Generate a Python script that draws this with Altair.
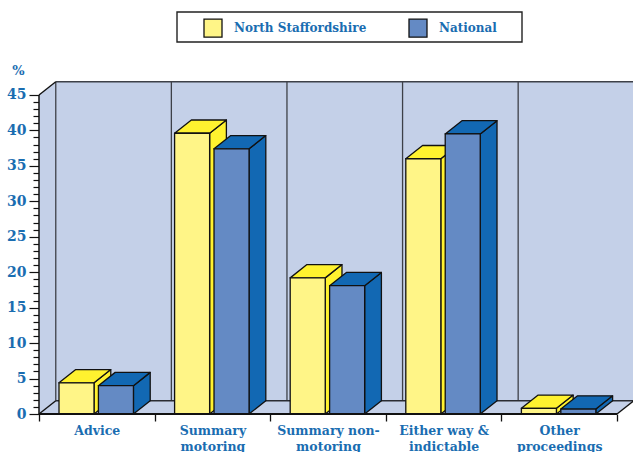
import json
import altair as alt
import pandas as pd

categories = ["Advice", "Summary motoring", "Summary non-motoring", "Either way & indictable", "Other proceedings"]
tick_lines = [["Advice"], ["Summary", "motoring"], ["Summary non-", "motoring"], ["Either way &", "indictable"], ["Other", "proceedings"]]
north_staffordshire = [4.4, 39.6, 19.2, 36.0, 0.8]
national = [4.0, 37.4, 18.1, 39.5, 0.7]
series_names = ["North Staffordshire", "National"]

INK = "#111111"
TEXT = "#1a6db1"
WALL = "#c4d0e8"
FONT = "DejaVu Serif"

# Oblique depth of the box, in category widths and in percent
DEPTH_X = 0.145
DEPTH_Y = 1.87
BAR_W = 0.303
OFFSETS = {"North Staffordshire": 0.173, "National": 0.514}
FRONT = {"North Staffordshire": "#fff587", "National": "#648ac4"}
SHADE = {"North Staffordshire": "#fff22f", "National": "#1268b3"}

x_scale = alt.Scale(domain=[-39 / 115.6, 594 / 115.6], nice=False, zero=False)
y_scale = alt.Scale(domain=[-38 / 7.09, 414 / 7.09], nice=False, zero=False)
X = lambda f="x": alt.X(f"{f}:Q", scale=x_scale)
Y = lambda f="y": alt.Y(f"{f}:Q", scale=y_scale)

x_axis_values = [i / 2 for i in range(11)]
y_axis_values = list(range(46))

# The two axes carry ticks and labels; a single expression splits major and minor ticks
x_axis = alt.Axis(
    values=x_axis_values, tickCount=len(x_axis_values), title=None, domain=False, grid=False, orient="bottom", offset=-38,
    tickSize={"expr": "datum.value % 1 === 0 ? 7 : 0"}, tickColor=INK, tickWidth=1.3,
    labelExpr=json.dumps(tick_lines) + "[floor(datum.value)] && datum.value % 1 !== 0 ? "
              + json.dumps(tick_lines) + "[floor(datum.value)] : ''",
    labelFont=FONT, labelFontWeight="bold", labelFontSize=12.5, labelColor=TEXT,
    labelOverlap=False, labelFlush=False, labelBound=False, labelPadding=10, labelLineHeight=16,
    labelAngle=0, labelAlign="center", labelBaseline="top",
)
y_axis = alt.Axis(
    values=y_axis_values, tickCount=len(y_axis_values), title="%", titleX=-21, titleY=70, titleAngle=0, titleAlign="center",
    titleBaseline="middle", titleFont=FONT, titleFontWeight="bold", titleFontSize=13, titleColor=TEXT,
    domain=False, grid=False, orient="left", offset=-39,
    tickSize={"expr": "datum.value % 5 === 0 ? 10 : 6"}, tickColor=INK, tickWidth=1.2,
    labelExpr="datum.value % 5 === 0 ? datum.label : ''",
    labelFont=FONT, labelFontWeight="bold", labelFontSize=14, labelColor=TEXT,
    labelOverlap=False, labelFlush=False, labelBound=False, labelPadding=3,
)

# Room of the box: left wall, back wall and floor
left_wall = alt.Chart(pd.DataFrame({"x": [0, DEPTH_X], "y": [0, DEPTH_Y], "y2": [45, 45 + DEPTH_Y]})).mark_area(
    fill=WALL, orient="vertical"
).encode(x=alt.X("x:Q", scale=x_scale, axis=x_axis), y=alt.Y("y:Q", scale=y_scale, axis=y_axis), y2="y2:Q")

back_wall = alt.Chart(pd.DataFrame({"x": [DEPTH_X], "x2": [5 + DEPTH_X], "y": [DEPTH_Y], "y2": [45 + DEPTH_Y]})).mark_rect(
    fill=WALL
).encode(x=X(), x2="x2:Q", y=Y(), y2="y2:Q")

floor = alt.Chart(pd.DataFrame({"y": [0, DEPTH_Y], "x": [0, DEPTH_X], "x2": [5, 5 + DEPTH_X]})).mark_area(
    fill=WALL, orient="horizontal"
).encode(y=Y(), x=X(), x2="x2:Q")

# Category separators on the back wall
separators = alt.Chart(pd.DataFrame({"x": [i + DEPTH_X for i in range(5)], "a": [DEPTH_Y] * 5, "b": [45 + DEPTH_Y] * 5})).mark_rule(
    color="#3d4048", strokeWidth=1.3
).encode(x=X(), y=Y("a"), y2="b:Q")


def line(xs, ys, colour=INK, width=1.4):
    return alt.Chart(pd.DataFrame({"x": xs, "y": ys, "o": range(len(xs))})).mark_line(
        color=colour, strokeWidth=width
    ).encode(x=X(), y=Y(), order="o:Q")


edges = [
    line([DEPTH_X, 5 + DEPTH_X], [45 + DEPTH_Y, 45 + DEPTH_Y], "#3d4048"),
    line([DEPTH_X, 5 + DEPTH_X], [DEPTH_Y, DEPTH_Y], "#2a2c33"),
    line([0, DEPTH_X], [45, 45 + DEPTH_Y]),
    line([0, DEPTH_X], [0, DEPTH_Y]),
    line([5, 5 + DEPTH_X], [0, DEPTH_Y]),
    line([0, 0], [0, 45], INK, 1.5),
    line([0, 5], [0, 0], INK, 2),
]


def bars(name, values):
    rows = pd.DataFrame({"cat": categories, "value": values, "i": range(len(values))})
    rows["series"] = name
    rows["left"] = rows["i"] + OFFSETS[name]
    rows["right"] = rows["left"] + BAR_W

    side = pd.concat([
        rows.assign(x=rows["right"], y=0.0, y2=rows["value"]),
        rows.assign(x=rows["right"] + DEPTH_X, y=DEPTH_Y, y2=rows["value"] + DEPTH_Y),
    ])
    top = pd.concat([
        rows.assign(y=rows["value"], x=rows["left"], x2=rows["right"]),
        rows.assign(y=rows["value"] + DEPTH_Y, x=rows["left"] + DEPTH_X, x2=rows["right"] + DEPTH_X),
    ])
    style = dict(fill=SHADE[name], stroke=INK, strokeWidth=1.3, strokeJoin="round")
    return [
        alt.Chart(side).mark_area(orient="vertical", **style).encode(x=X(), y=Y(), y2="y2:Q", detail="cat:N"),
        alt.Chart(top).mark_area(orient="horizontal", **style).encode(y=Y(), x=X(), x2="x2:Q", detail="cat:N"),
        alt.Chart(rows).mark_rect(stroke=INK, strokeWidth=1.3).encode(
            x=X("left"), x2="right:Q", y=Y("value"), y2=alt.Y2(datum=0),
            fill=alt.Fill(
                "series:N",
                scale=alt.Scale(domain=series_names, range=[FRONT[s] for s in series_names]),
                legend=alt.Legend(
                    title=None, orient="none", direction="horizontal", legendX=197, legendY=12,
                    symbolType="square", symbolSize=324, symbolStrokeColor=INK, symbolStrokeWidth=1.3,
                    labelFont=FONT, labelFontWeight="bold", labelFontSize=12, labelColor=TEXT,
                    labelOffset=11, columnPadding=39, padding=6, symbolOpacity=1, labelLimit=200,
                ),
            ),
        ),
    ]


legend_box = alt.Chart(pd.DataFrame({"k": [0]})).mark_rect(fill="white", stroke="#222222", strokeWidth=1.4).encode(
    x=alt.value(177), x2=alt.value(522), y=alt.value(12), y2=alt.value(42)
)

layers = [left_wall, back_wall, floor, separators, *edges[:5], legend_box]
layers += bars(series_names[0], north_staffordshire)
layers += bars(series_names[1], national)
layers += edges[5:]

chart = alt.layer(*layers).properties(
    width=633, height=452, padding=0, autosize=alt.AutoSizeParams(type="none"), background="white"
).configure_view(strokeWidth=0)

chart.save("out.html", embed_options={"renderer": "svg", "actions": False})
